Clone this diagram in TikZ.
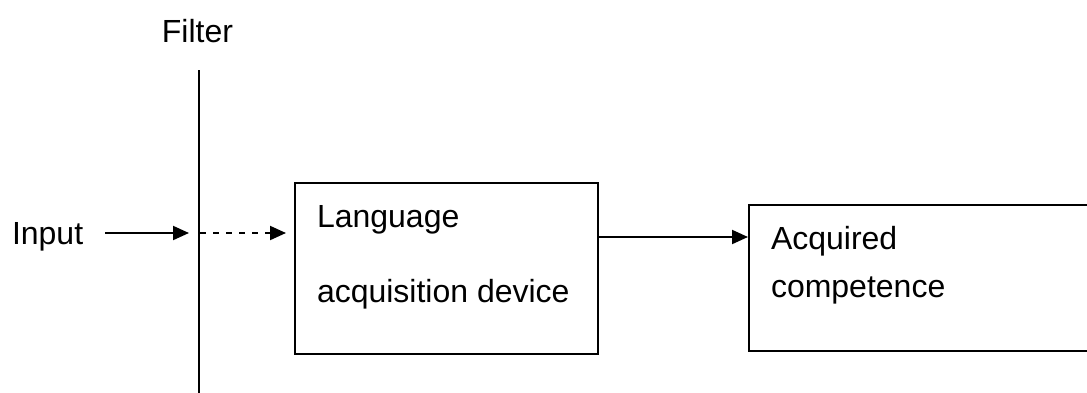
\documentclass[tikz,border=0pt]{standalone}
\usepackage{fontspec}
\setmainfont{Liberation Sans}
\usetikzlibrary{arrows.meta}
\begin{document}
\begin{tikzpicture}
		[x=0.5pt, y=-0.5pt, line width=1pt,
		every node/.style={inner sep=0pt, font=\fontsize{16}{19}\selectfont},
		box/.style={draw, rectangle},
		arr/.style={-{Triangle[length=8pt, width=7pt]}}]
		\useasboundingbox (0,0) rectangle (1087,392);
		\node[anchor=base] (filter) at (197.5,42) {Filter};
		\coordinate (ftop) at (199,70);
		\coordinate (fbot) at (199,394);
		\coordinate (pass) at (199,233);
		\node[anchor=base west, outer xsep=11pt] (input) at (-10,244) {Input};
		
		\node[box, minimum width=151.5pt, minimum height=85.5pt] (lad) at (446.5,268.5) {};
		\node[anchor=base west] (lang) at (316,227) {Language};
		\node[anchor=base west] (acq) at (316,302) {acquisition device};
		
		\node[box, minimum width=174pt, minimum height=73pt] (comp) at (923,278) {};
		\node[anchor=base west] (acqd) at (770,249) {Acquired};
		\node[anchor=base west] (compt) at (770,297) {competence};
		
		\path (ftop) edge (fbot);
		\path[arr] (input.east |- pass) edge[shorten >=5pt] (pass);
		\path[arr] (pass) edge[dash pattern=on 3pt off 3.5pt, shorten <=0.5pt, shorten >=4pt] (lad.west |- pass);
		\path[arr] ([yshift=15.75pt]lad.east) edge ([yshift=15.75pt]lad.east -| comp.west);
		\end{tikzpicture}
\end{document}
